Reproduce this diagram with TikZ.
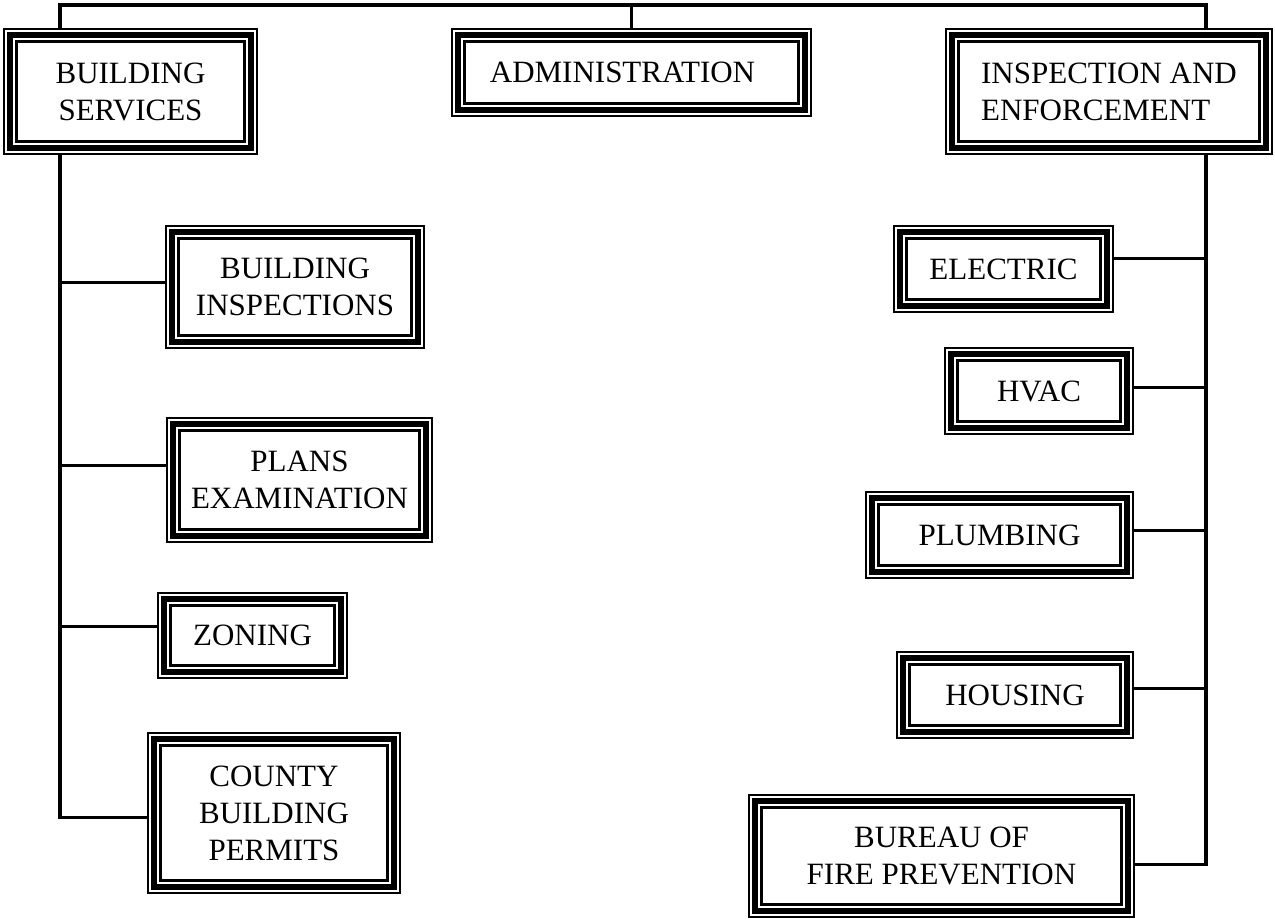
\documentclass[tikz,border=0pt]{standalone}
\usepackage{fontspec}
\setmainfont{Liberation Serif}
\newcommand{\lblfont}{\fontsize{31}{37}\selectfont}
\tikzset{
  tbox/.style={draw, line width=1.8pt, fill=white, rectangle, inner sep=0pt, align=center, font=\lblfont},
  trunk/.style={line width=3.5pt, line cap=rect},
  branch/.style={line width=3pt}
}
\begin{document}
\begin{tikzpicture}[x=1pt,y=-1pt]
\useasboundingbox (0,0) rectangle (1275,922);
% connector coordinates
\coordinate (tl) at (60,5);
\coordinate (tr) at (1206,5);
\coordinate (lb) at (60,817);
\coordinate (rb) at (1206,864);

% nodes
\node[tbox, minimum width=253pt, minimum height=125pt] (BS) at (130.5,91.5) {BUILDING\\SERVICES\hspace{5pt}};
\node[tbox, minimum width=359pt, minimum height=87pt] (ADM) at (631.5,72.5) {ADMINISTRATION\hspace{18pt}};
\node[tbox, minimum width=326pt, minimum height=125pt, align=left] (IE) at (1109,91.5) {INSPECTION AND\\ENFORCEMENT};

\node[tbox, minimum width=258pt, minimum height=122pt] (BI) at (295,287) {BUILDING\\INSPECTIONS};
\node[tbox, minimum width=265pt, minimum height=124pt] (PE) at (299.5,480) {PLANS\\EXAMINATION};
\node[tbox, minimum width=189pt, minimum height=85pt] (ZON) at (252.5,635.5) {ZONING};
\node[tbox, minimum width=252pt, minimum height=160pt] (CBP) at (274,813) {COUNTY\\BUILDING\\PERMITS};

\node[tbox, minimum width=219pt, minimum height=86pt] (EL) at (1003.5,269) {ELECTRIC};
\node[tbox, minimum width=188pt, minimum height=86pt] (HV) at (1039,391) {HVAC};
\node[tbox, minimum width=267pt, minimum height=86pt] (PL) at (999.5,535) {PLUMBING};
\node[tbox, minimum width=236pt, minimum height=86pt] (HO) at (1015,695) {HOUSING};
\node[tbox, minimum width=385pt, minimum height=122pt] (BFP) at (941.5,856) {BUREAU OF\\FIRE PREVENTION};

% triple border inner lines
\foreach \n in {BS,ADM,IE,BI,PE,ZON,CBP,EL,HV,PL,HO,BFP}{
  \draw[line width=6pt] ([shift={(7,7)}]\n.north west) rectangle ([shift={(-7,-7)}]\n.south east);
  \draw[line width=2.2pt] ([shift={(13.4,13.4)}]\n.north west) rectangle ([shift={(-13.4,-13.4)}]\n.south east);
}

% connectors
\draw[trunk] (tl |- BS.north) -- (tl) -- (tr) -- (tr |- IE.north);
\draw[trunk] (ADM.north) -- (ADM.north |- tl);
\draw[trunk] (tl |- BS.south) -- (lb);
\draw[trunk] (tr |- IE.south) -- (rb);

\draw[branch] (60,282) -- (BI.west |- 0,282);
\draw[branch] (60,465) -- (PE.west |- 0,465);
\draw[branch] (60,626) -- (ZON.west |- 0,626);
\draw[branch] (lb) -- (CBP.west |- lb);

\draw[branch] (1206,258) -- (EL.east |- 0,258);
\draw[branch] (1206,387) -- (HV.east |- 0,387);
\draw[branch] (1206,530) -- (PL.east |- 0,530);
\draw[branch] (1206,688) -- (HO.east |- 0,688);
\draw[branch] (rb) -- (BFP.east |- rb);
\end{tikzpicture}
\end{document}
